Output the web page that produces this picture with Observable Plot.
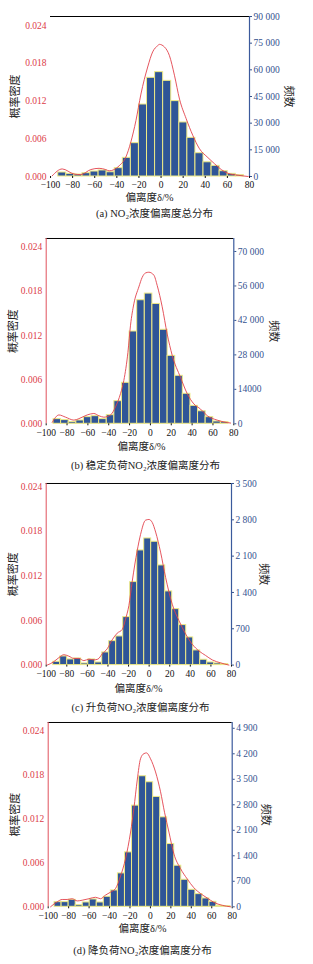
<!DOCTYPE html>
<html><head><meta charset="utf-8">
<script src="https://cdn.jsdelivr.net/npm/d3@7"></script>
<script src="https://cdn.jsdelivr.net/npm/@observablehq/plot@0.6"></script>
<style>
html,body{margin:0;padding:0;background:#fff;}
#wrap{position:relative;width:313px;height:964px;overflow:hidden;}
#wrap svg{position:absolute;left:0;}
</style></head><body><div id="wrap"></div>
<script>
// ---------- shared ----------
const xTicks = [-100, -80, -60, -40, -20, 0, 20, 40, 60, 80];
const xTickLabels = ["−100", "−80", "−60", "−40", "−20", "0", "20", "40", "60", "80"];
const densityTicks = [0, 0.006, 0.012, 0.018, 0.024];
const densityTickLabels = ["0.000", "0.006", "0.012", "0.018", "0.024"];
const leftTitle = "概率密度";
const rightTitle = "频数";
const xTitle = "偏离度δ/%";

// ---------- (a) ----------
const binsA = [-93, -85.7, -78.4, -71.1, -63.8, -56.5, -49.2, -41.9, -34.6, -27.3, -20, -12.7, -5.4, 1.9, 9.2, 16.5, 23.8, 31.1, 38.4, 45.7, 53, 60.3, 67.6];
const binWidthA = 7.3;
const countsA = [2250, 1500, 1125, 1875, 2800, 3400, 2400, 4700, 10500, 18750, 40500, 55500, 58700, 53800, 42400, 30400, 21750, 13100, 8000, 6000, 3000, 1500, 750];
const curveXA = [-98.5, -89.4, -78.8, -72.7, -63.6, -56.1, -50, -47, -42.4, -37.9, -31.8, -27.3, -22.7, -18.2, -12.1, -7.6, -3, -1.5, 3, 7.6, 12.1, 16.7, 22.7, 28.8, 34.8, 42.4, 48.5, 54.5, 60.6, 69.7, 78.8];
const curveDA = [0.0001, 0.0012, 0.0004, 0.0003, 0.0011, 0.0013, 0.0011, 0.0009, 0.0011, 0.0017, 0.0031, 0.0055, 0.0089, 0.0131, 0.0174, 0.0198, 0.0208, 0.0210, 0.0206, 0.0192, 0.0161, 0.0123, 0.0092, 0.0065, 0.0044, 0.0030, 0.0020, 0.0011, 0.0005, 0.0002, 0.0000];
const countTicksA = [0, 15000, 30000, 45000, 60000, 75000, 90000];
const countTickLabelsA = ["0", "15 000", "30 000", "45 000", "60 000", "75 000", "90 000"];
const captionA = "(a) NO₂浓度偏离度总分布";

// ---------- (b) ----------
const binsB = [-93, -85.7, -78.4, -71.1, -63.8, -56.5, -49.2, -41.9, -34.6, -27.3, -20, -12.7, -5.4, 1.9, 9.2, 16.5, 23.8, 31.1, 38.4, 45.7, 53, 60.3, 67.6];
const binWidthB = 7.3;
const countsB = [1900, 1500, 680, 1350, 2700, 3100, 1900, 3500, 9200, 16650, 37500, 50200, 52900, 48700, 38200, 27600, 19500, 12200, 7300, 5100, 2700, 950, 680];
const curveXB = [-94.2, -87.8, -81.4, -73.4, -68.6, -60.7, -54.3, -49.5, -44.7, -38.3, -33.5, -28.7, -25.5, -21.6, -19.1, -15.9, -11.1, -7.9, -4.7, -1.5, 3.3, 6.5, 11.3, 16.1, 20.9, 28.9, 35.3, 41.7, 48.1, 54.5, 64.1, 76.9];
const curveDB = [0.0002, 0.0012, 0.0009, 0.0005, 0.0007, 0.0012, 0.0014, 0.0011, 0.0009, 0.0012, 0.0023, 0.0041, 0.0059, 0.0097, 0.0134, 0.0163, 0.0186, 0.0199, 0.0205, 0.0206, 0.0202, 0.0188, 0.0159, 0.0122, 0.0093, 0.0063, 0.0041, 0.0027, 0.0020, 0.0011, 0.0005, 0.0001];
const countTicksB = [0, 14000, 28000, 42000, 56000, 70000];
const countTickLabelsB = ["0", "14000", "28 000", "42 000", "56 000", "70 000"];
const captionB = "(b) 稳定负荷NO₂浓度偏离度分布";

// ---------- (c) ----------
const binsC = [-93.2, -86.4, -79.6, -72.8, -66, -59.2, -52.4, -45.6, -38.8, -32, -25.2, -18.4, -11.6, -4.8, 2, 8.8, 15.6, 22.4, 29.2, 36, 42.8, 49.6, 56.4, 63.2, 70];
const binWidthC = 6.8;
const countsC = [64, 167, 109, 128, 32, 109, 51, 244, 462, 552, 925, 1600, 2210, 2441, 2377, 1921, 1420, 1079, 771, 533, 283, 103, 51, 32, 20];
const curveXC = [-99, -93.2, -87.7, -82.8, -78, -73.1, -68.3, -63.4, -58.5, -53.7, -49.8, -45.6, -40.7, -35.9, -31, -26.1, -22.9, -19.7, -16.4, -11.6, -8.3, -3.5, -0.2, 3, 6.3, 11.1, 16, 22.4, 28.9, 35.4, 41.9, 48.4, 54.8, 61.3, 69.4, 77.5];
const curveDC = [0, 0.0004, 0.0010, 0.0014, 0.0012, 0.0009, 0.0009, 0.0006, 0.0008, 0.0007, 0.0008, 0.0015, 0.0022, 0.0034, 0.0043, 0.0048, 0.0062, 0.0080, 0.0113, 0.0154, 0.0176, 0.0195, 0.0196, 0.0192, 0.0179, 0.0152, 0.0118, 0.0082, 0.0060, 0.0042, 0.0028, 0.0019, 0.0013, 0.0007, 0.0003, 0.0000];
const countTicksC = [0, 700, 1400, 2100, 2800, 3500];
const countTickLabelsC = ["0", "700", "1 400", "2 100", "2 800", "3 500"];
const captionC = "(c) 升负荷NO₂浓度偏离度分布";

// ---------- (d) ----------
const binsD = [-93.8, -86.9, -80, -73.1, -66.2, -59.4, -52.5, -45.6, -38.7, -31.8, -24.9, -18, -11.1, -4.2, 2.7, 9.5, 16.4, 23.3, 30.2, 37.1, 44, 50.9, 57.7, 64.6, 71.5];
const binWidthD = 6.89;
const countsD = [128, 128, 192, 46, 119, 202, 119, 275, 449, 917, 1494, 2777, 3584, 3419, 3016, 2456, 1723, 1127, 742, 467, 348, 229, 137, 27, 18];
const curveXD = [-97.7, -91, -86.3, -81.4, -76.5, -71.6, -66.7, -60.2, -53.7, -48.8, -43.9, -39, -34.1, -29.2, -24.3, -19.4, -16.2, -12.9, -9.7, -6.4, -3.8, 0.1, 5, 9.9, 13.8, 18.1, 23, 29.5, 36, 42.5, 49.1, 55.6, 62.1, 70.3, 78.4];
const curveDD = [0.0000, 0.0007, 0.0010, 0.0010, 0.0011, 0.0008, 0.0009, 0.0011, 0.0013, 0.0011, 0.0016, 0.0020, 0.0025, 0.0042, 0.0066, 0.0102, 0.0134, 0.0173, 0.0202, 0.0209, 0.0210, 0.0202, 0.0184, 0.0157, 0.0129, 0.0102, 0.0072, 0.0052, 0.0038, 0.0026, 0.0018, 0.0012, 0.0006, 0.0002, 0];
const countTicksD = [0, 700, 1400, 2100, 2800, 3500, 4200, 4900];
const countTickLabelsD = ["0", "700", "1 400", "2 100", "2 800", "3 500", "4 200", "4 900"];
const captionD = "(d) 降负荷NO₂浓度偏离度分布";

// ---------- layout (pixels) ----------
const layouts = [
  {bins: binsA, w: binWidthA, counts: countsA, cx: curveXA, cd: curveDA, ct: countTicksA, cl: countTickLabelsA, caption: captionA,
   left: 50, right: 249, top: 16, bottom: 176, countTop: 90000, densityTop: 0.02543, leftLine: false,
   ltx: 15, rtx: 288, xlx: 149, xly: 21, capx: 154, capy: 37},
  {bins: binsB, w: binWidthB, counts: countsB, cx: curveXB, cd: curveDB, ct: countTicksB, cl: countTickLabelsB, caption: captionB,
   left: 45.7, right: 233.3, top: 238, bottom: 423.3, countTop: 75281, densityTop: 0.02518, leftLine: true,
   ltx: 13, rtx: 273, xlx: 141, xly: 23, capx: 145, capy: 42},
  {bins: binsC, w: binWidthC, counts: countsC, cx: curveXC, cd: curveDC, ct: countTicksC, cl: countTickLabelsC, caption: captionC,
   left: 45.7, right: 231, top: 482.7, bottom: 664.3, countTop: 3500, densityTop: 0.02444, leftLine: true,
   ltx: 13, rtx: 263, xlx: 138, xly: 24, capx: 140, capy: 43},
  {bins: binsD, w: binWidthD, counts: countsD, cx: curveXD, cd: curveDD, ct: countTicksD, cl: countTickLabelsD, caption: captionD,
   left: 47.7, right: 231.7, top: 722, bottom: 906.3, countTop: 5059, densityTop: 0.02515, leftLine: true,
   ltx: 15, rtx: 265, xlx: 142, xly: 22, capx: 142, capy: 44}
];

const BLUE = "#2f5597", EDGE = "#efea86", RED = "#e2424c", RLAB = "#dc3b47", BLAB = "#34528f";
const serif = "'Liberation Serif', 'Noto Sans CJK SC', serif";
const cjk = "'Liberation Serif', 'Noto Sans CJK SC', sans-serif";

const wrap = document.getElementById("wrap");
for (const L of layouts) {
  const k = L.countTop / L.densityTop;
  const bars = L.bins.map((b, i) => ({x1: b, x2: b + L.w, n: L.counts[i]}));
  const curve = L.cx.map((x, i) => ({x, y: L.cd[i] * k}));
  const dTicks = densityTicks.map(t => t * k);
  const dMap = new Map(dTicks.map((t, i) => [t, densityTickLabels[i]]));
  const cMap = new Map(L.ct.map((t, i) => [t, L.cl[i]]));
  const xMap = new Map(xTicks.map((t, i) => [t, xTickLabels[i]]));
  const mt = 10, mb = 56;
  const H = L.bottom - L.top + mt + mb;
  const cxMid = (L.left + L.right) / 2;
  const marks = [
    Plot.rectY(bars, {x1: "x1", x2: "x2", y: "n", fill: BLUE, stroke: EDGE, strokeWidth: 1, inset: 0}),
    Plot.line(curve, {x: "x", y: "y", stroke: RED, strokeWidth: 0.9, curve: "monotone-x"}),
    Plot.ruleY([L.countTop], {stroke: "#000", strokeWidth: 1}),
    Plot.ruleX([80], {stroke: "#3b5a9c", strokeWidth: 1.2}),
    Plot.axisX({ticks: xTicks, tickFormat: d => xMap.get(d), tickSize: 2, tickPadding: 3, label: null, fontSize: 9.5, color: "#111"}),
    Plot.axisY({anchor: "left", ticks: dTicks, tickFormat: d => dMap.get(d), tickSize: 0, tickPadding: 4, label: null, fontSize: 9.5, color: RLAB}),
    Plot.axisY({anchor: "right", ticks: L.ct, tickFormat: d => cMap.get(d), tickSize: 2, tickPadding: 2, label: null, fontSize: 9.5, color: BLAB}),
    Plot.text([leftTitle], {text: d => d, frameAnchor: "left", dx: L.ltx - L.left, rotate: -90, textAnchor: "middle", lineAnchor: "middle", fontSize: 11, fill: "#222", fontFamily: cjk}),
    Plot.text([rightTitle], {text: d => d, frameAnchor: "right", dx: L.rtx - L.right, rotate: 90, textAnchor: "middle", lineAnchor: "middle", fontSize: 11, fill: "#222", fontFamily: cjk}),
    Plot.text([xTitle], {text: d => d, frameAnchor: "bottom", dx: L.xlx - cxMid, dy: L.xly, textAnchor: "middle", lineAnchor: "middle", fontSize: 10.5, fill: "#222", fontFamily: cjk}),
    Plot.text([L.caption], {text: d => d, frameAnchor: "bottom", dx: L.capx - cxMid, dy: L.capy, textAnchor: "middle", lineAnchor: "middle", fontSize: 10.5, fill: "#222", fontFamily: cjk})
  ];
  if (L.leftLine) marks.splice(3, 0, Plot.ruleX([-100], {stroke: "#e0505c", strokeWidth: 1}));
  const svg = Plot.plot({
    width: 313, height: H,
    marginTop: mt, marginBottom: mb, marginLeft: L.left, marginRight: 313 - L.right,
    x: {domain: [-100, 80]},
    y: {domain: [0, L.countTop]},
    style: {fontFamily: serif, fontSize: "10px", background: "transparent", overflow: "visible"},
    marks
  });
  svg.style.top = (L.top - mt) + "px";
  wrap.appendChild(svg);
}
</script></body></html>
